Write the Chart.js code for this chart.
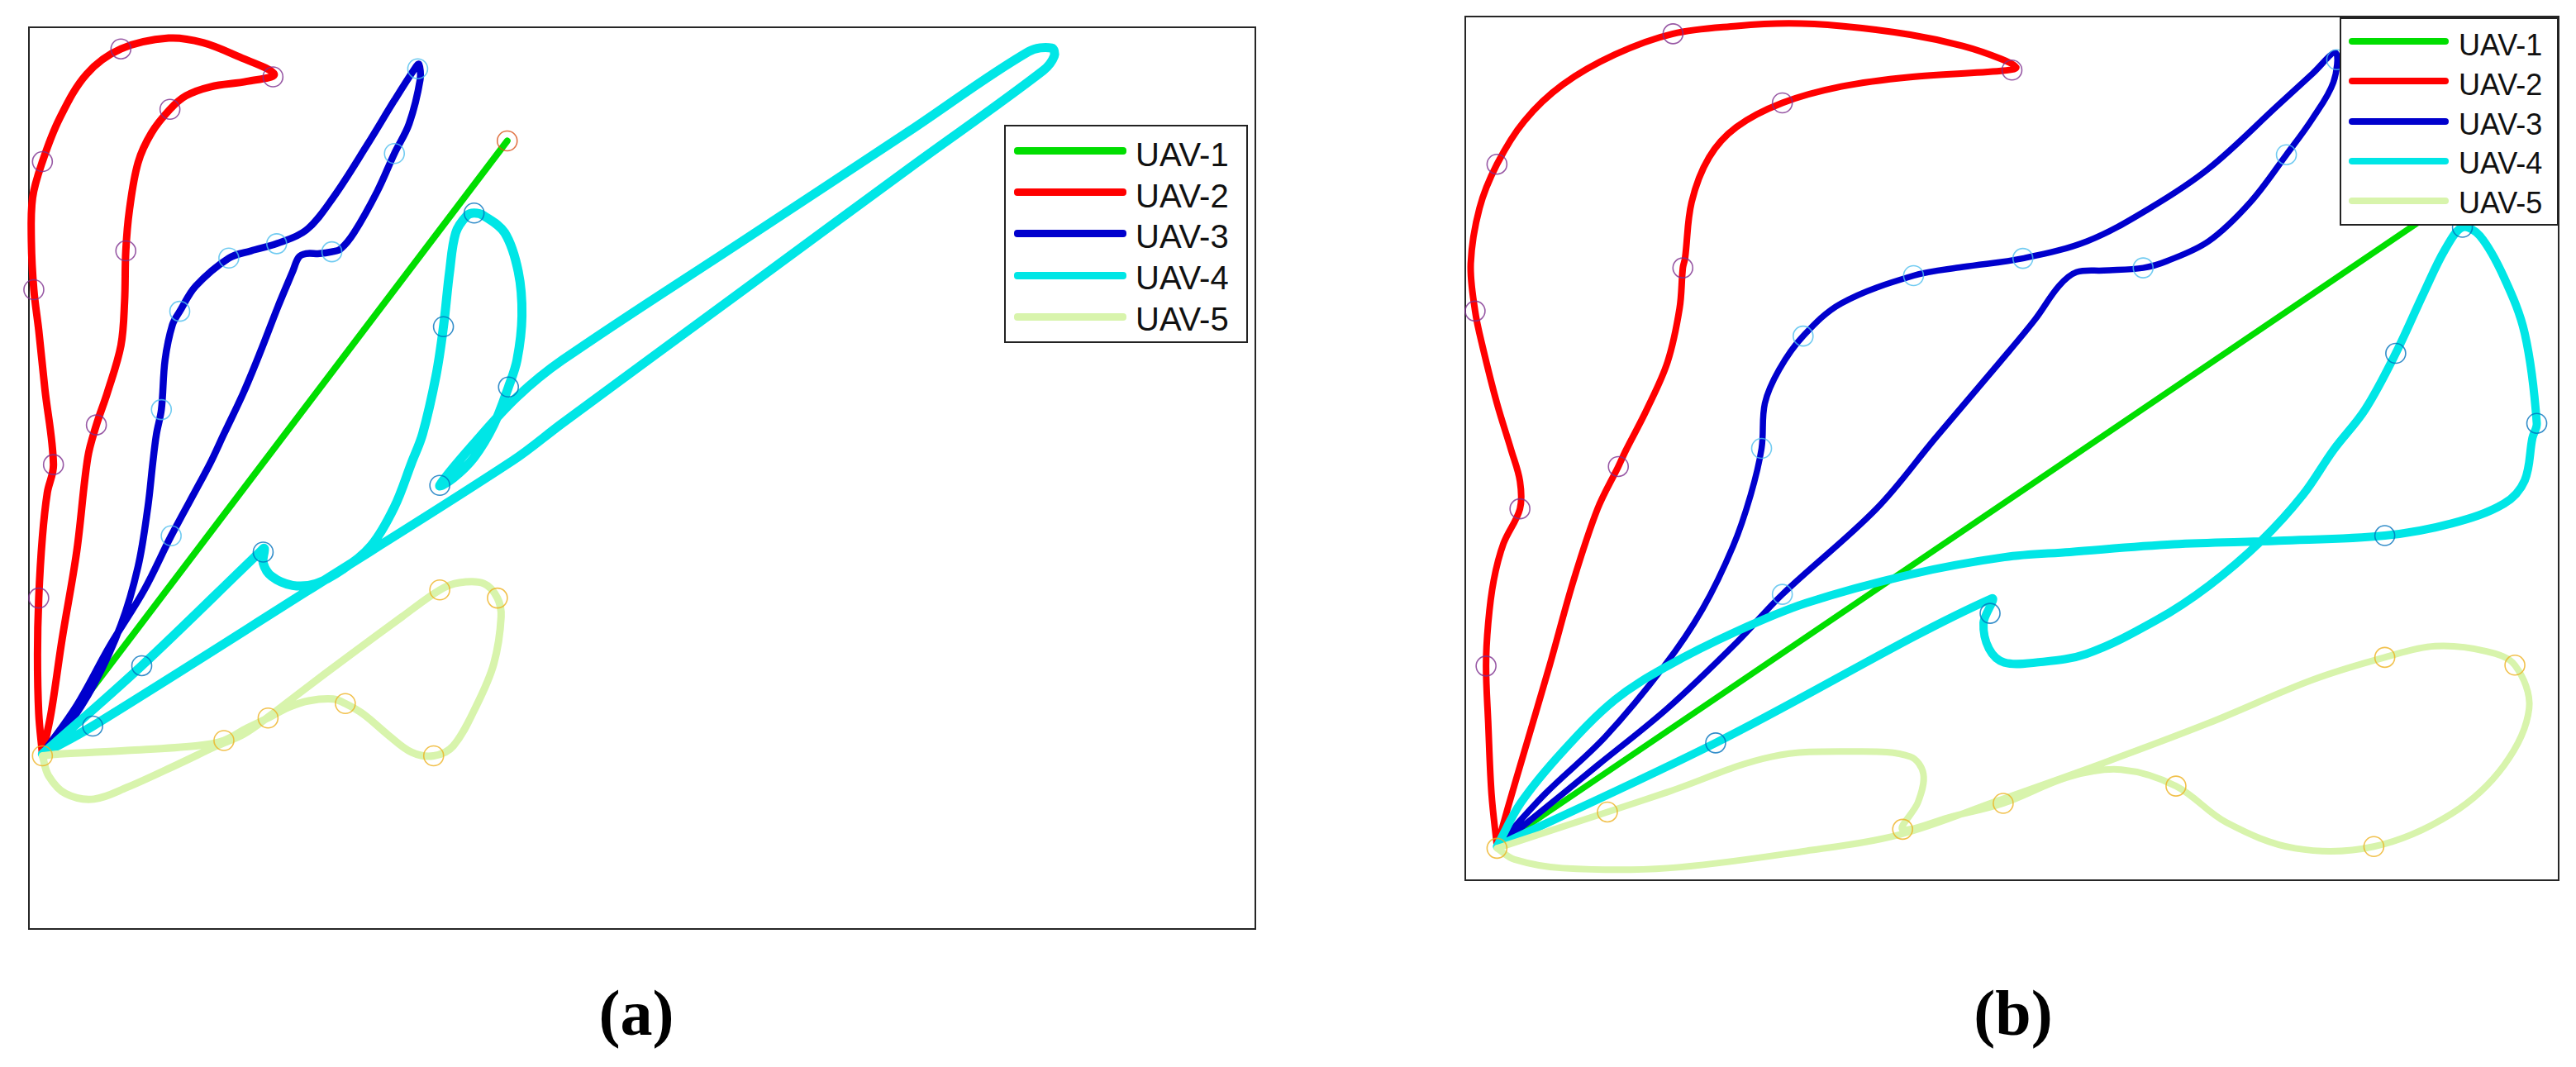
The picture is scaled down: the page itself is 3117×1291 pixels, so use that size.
<!DOCTYPE html>
<html><head><meta charset="utf-8">
<script src="https://cdn.jsdelivr.net/npm/chart.js@4.4.0/dist/chart.umd.min.js"></script>
<style>
html,body{margin:0;padding:0;background:#fff;}
body{width:3117px;height:1291px;position:relative;overflow:hidden;}
canvas{position:absolute;}
.legend{position:absolute;background:#fff;border:2px solid #222;box-sizing:border-box;font-family:'Liberation Sans',Arial,sans-serif;color:#111;z-index:5;}
.sw{position:absolute;border-radius:4px;}
.lt{position:absolute;white-space:nowrap;}
.cap{position:absolute;width:300px;text-align:center;font-family:'Liberation Serif','Times New Roman',serif;font-weight:bold;font-size:78px;line-height:78px;color:#000;}
</style></head>
<body>
<canvas id="ca" width="1524" height="1131" style="left:15px;top:13px"></canvas>
<canvas id="cb" width="1363" height="1085" style="left:1753px;top:0px"></canvas>
<div id="lega" class="legend" style="left:1215px;top:151px;width:295px;height:264px"></div>
<div id="legb" class="legend" style="left:2831px;top:21px;width:265px;height:252px"></div>
<div class="cap" style="left:620px;top:1187px">(a)</div>
<div class="cap" style="left:2286px;top:1187px">(b)</div>
<script>
const UAV_NAMES = ['UAV-1','UAV-2','UAV-3','UAV-4','UAV-5'];
const LINE_COLORS = ['#00DE00','#FF0000','#0000CD','#00E6E6','#D8F4AC'];
const MARKER_COLORS = ['#D95319','#7E2F8E','#4DBEEE','#0072BD','#EDB120'];

// ---- Panel (a): trajectories (normalised 0-100 units) ----
const A_UAV1 = [[1.1,19.4],[39.0,87.4]];
const A_UAV2 = [[1.1,19.4],[0.8,23.9],[0.7,30.4],[0.8,36.7],[1.1,43.5],[1.5,48.4],[2.0,51.5],[1.3,59.9],[0.8,66.4],[0.4,70.9],[0.2,76.2],[0.3,81.1],[1.1,85.1],[2.5,89.9],[4.7,94.8],[7.5,97.6],[11.4,98.8],[14.2,98.3],[17.0,96.8],[20.0,94.8],[17.8,94.0],[14.8,93.4],[12.8,92.4],[11.5,90.9],[10.0,88.3],[8.9,85.0],[8.2,79.8],[7.9,75.2],[7.8,69.6],[7.5,64.7],[6.4,59.5],[5.5,55.9],[4.8,52.3],[3.9,41.9],[2.7,32.1],[1.8,23.9],[1.1,19.4]];
const A_UAV3 = [[1.1,19.4],[3.0,22.2],[5.3,27.1],[7.5,33.7],[8.9,40.2],[9.7,46.8],[10.1,51.7],[10.4,54.9],[10.8,57.6],[11.1,63.1],[11.7,67.0],[12.3,68.5],[13.6,71.3],[16.3,74.4],[18.1,75.2],[20.2,76.0],[22.6,77.5],[24.8,81.1],[27.6,87.0],[29.8,91.9],[31.5,95.5],[31.8,95.9],[31.9,94.2],[31.0,89.3],[29.8,86.0],[28.4,81.8],[26.5,77.2],[25.4,75.4],[24.7,75.1],[23.7,74.9],[22.6,74.9],[22.0,74.5],[21.5,72.9],[20.3,69.0],[18.9,64.1],[17.5,59.5],[15.9,54.9],[14.8,51.7],[13.9,49.4],[11.6,43.6],[9.4,37.6],[6.6,31.4],[3.9,24.8],[1.1,19.4]];
const A_UAV4 = [[1.1,19.4],[9.2,29.2],[18.9,41.9],[19.2,42.2],[19.1,40.6],[19.8,39.1],[21.5,38.1],[23.4,38.3],[25.6,39.9],[27.9,42.5],[29.8,46.8],[31.2,51.7],[32.1,54.9],[33.2,61.4],[33.8,66.8],[34.3,72.9],[34.8,77.2],[35.7,79.1],[36.3,79.4],[37.1,79.1],[38.8,77.2],[39.9,72.9],[40.2,68.0],[39.8,63.1],[39.1,60.1],[37.9,55.9],[36.3,52.3],[34.6,50.0],[33.5,49.2],[36.4,54.0],[39.8,59.0],[43.5,63.1],[58.3,76.4],[71.8,88.5],[81.5,97.3],[83.4,97.7],[83.6,96.8],[82.7,95.2],[71.8,84.4],[58.3,70.9],[43.5,56.1],[39.4,51.9],[22.6,37.4],[5.2,22.5],[1.1,19.4]];
const A_UAV5 = [[1.1,19.2],[2.5,19.4],[8.0,19.8],[13.6,20.3],[15.9,20.9],[17.8,22.3],[19.5,23.4],[21.2,24.6],[22.8,25.3],[24.8,25.5],[25.8,25.0],[27.3,23.8],[29.3,21.5],[31.2,19.6],[33.0,19.2],[34.6,20.3],[36.5,24.8],[37.9,29.4],[38.5,34.6],[38.2,36.7],[37.1,38.3],[35.1,38.4],[33.5,37.6],[30.4,34.6],[26.2,30.4],[22.0,26.1],[19.7,23.7],[17.5,21.6],[15.3,20.3],[12.2,18.3],[8.0,15.7],[5.3,14.4],[3.0,15.0],[1.6,17.0],[1.1,19.2]];
// waypoints (a)
const A_UAV1_WP = [[39.0,87.4]];
const A_UAV2_WP = [[0.8,36.7],[2.0,51.5],[0.4,70.9],[1.1,85.1],[7.5,97.6],[19.9,94.5],[11.5,90.9],[7.9,75.2],[5.5,55.9]];
const A_UAV3_WP = [[10.8,57.6],[12.3,68.5],[16.3,74.4],[20.2,76.0],[31.7,95.4],[29.8,86.0],[24.7,75.1],[11.6,43.6]];
const A_UAV4_WP = [[5.2,22.5],[9.2,29.2],[19.1,41.8],[33.8,66.8],[36.3,79.4],[39.1,60.1],[33.5,49.2]];
const A_UAV5_WP = [[1.1,19.2],[15.9,20.9],[19.5,23.4],[25.8,25.0],[33.0,19.2],[38.2,36.7],[33.5,37.6]];

// ---- Panel (b) ----
const B_UAV1 = [[2.9,3.9],[89.3,78.0]];
const B_UAV2 = [[2.9,3.9],[2.4,10.0],[2.1,18.2],[1.9,24.8],[2.1,29.8],[2.6,34.7],[3.5,39.0],[5.0,43.0],[5.0,46.2],[4.2,49.8],[2.9,55.2],[1.6,61.7],[0.9,65.9],[0.5,71.4],[1.3,77.8],[2.9,82.9],[5.4,87.9],[8.9,92.1],[13.7,95.6],[19.0,98.0],[24.8,98.9],[29.6,99.2],[34.4,98.9],[40.7,97.9],[45.5,96.6],[49.0,95.1],[50.4,94.1],[49.0,93.7],[40.7,93.0],[34.4,91.9],[29.0,90.0],[24.8,87.2],[22.3,83.7],[20.7,78.5],[20.1,72.0],[19.9,70.9],[19.6,66.2],[18.5,60.0],[16.6,54.5],[14.7,49.8],[14.0,47.9],[12.1,43.0],[9.9,34.7],[7.7,24.8],[5.4,14.9],[3.9,8.4],[2.9,3.9]];
const B_UAV3 = [[2.9,3.9],[7.3,10.0],[12.8,16.6],[18.2,24.8],[21.7,31.4],[24.5,38.7],[26.1,44.6],[27.1,50.0],[27.4,55.2],[28.7,59.1],[30.9,63.0],[34.4,66.8],[41.0,70.0],[45.5,71.0],[51.0,72.0],[56.9,74.0],[62.6,77.8],[68.0,82.4],[74.4,89.8],[77.5,93.4],[79.6,95.8],[79.4,92.4],[77.5,88.2],[75.1,84.0],[71.8,78.5],[68.0,74.0],[64.2,71.7],[62.0,70.9],[58.4,70.6],[55.9,70.4],[54.3,68.8],[52.1,64.9],[48.9,60.0],[43.0,51.2],[37.6,43.0],[29.0,33.1],[24.8,27.5],[18.5,19.9],[12.1,13.3],[5.7,6.7],[2.9,3.9]];
const B_UAV4 = [[2.9,3.9],[5.1,9.0],[8.9,14.9],[13.7,20.9],[18.5,24.8],[24.8,28.8],[31.2,32.1],[40.7,35.4],[49.3,37.4],[55.3,38.0],[64.8,38.9],[74.4,39.3],[84.1,39.9],[90.2,41.3],[95.0,43.6],[96.9,46.3],[97.6,51.2],[98.0,52.9],[96.9,63.3],[95.0,69.8],[92.8,74.6],[91.2,75.6],[89.6,73.0],[87.7,68.1],[85.1,61.0],[82.3,54.5],[79.4,49.8],[76.6,44.6],[72.8,39.3],[68.0,34.1],[63.2,30.1],[56.8,26.2],[52.1,25.2],[49.3,25.2],[47.9,26.8],[47.4,29.8],[48.1,32.6],[22.9,15.9],[2.9,3.9]];
const B_UAV5 = [[2.9,3.7],[13.0,7.9],[18.5,10.2],[28.0,14.3],[36.0,14.9],[40.7,14.3],[41.9,12.3],[41.4,9.0],[40.0,5.9],[44.6,7.4],[49.2,8.9],[55.3,12.0],[60.0,12.8],[65.0,10.9],[69.6,6.7],[75.9,3.7],[83.1,3.9],[90.2,7.7],[95.0,13.3],[97.3,19.9],[96.0,24.9],[93.4,26.5],[88.7,27.1],[84.1,25.8],[77.5,23.2],[68.0,18.2],[58.4,13.6],[48.9,9.3],[39.8,5.3],[31.2,3.4],[18.5,1.4],[8.9,1.4],[4.5,2.4],[2.9,3.7]];
// waypoints (b)
const B_UAV1_WP = [[89.3,78.0]];
const B_UAV2_WP = [[1.9,24.8],[5.0,43.0],[0.9,65.9],[2.9,82.9],[19.0,98.0],[50.0,93.8],[29.0,90.0],[19.9,70.9],[14.0,47.9]];
const B_UAV3_WP = [[27.1,50.0],[30.9,63.0],[41.0,70.0],[51.0,72.0],[79.7,95.0],[75.1,84.0],[62.0,70.9],[29.0,33.1]];
const B_UAV4_WP = [[22.9,15.9],[48.0,30.9],[84.1,39.9],[98.0,52.9],[91.2,75.6],[85.1,61.0]];
const B_UAV5_WP = [[2.9,3.7],[13.0,7.9],[40.0,5.9],[49.2,8.9],[65.0,10.9],[83.1,3.9],[96.0,24.9],[84.1,25.8]];

const framePlugin = {
  id:'frame',
  beforeDatasetsDraw(chart){
    const {ctx, chartArea:a} = chart;
    ctx.save(); ctx.strokeStyle='#262626'; ctx.lineWidth=2;
    ctx.strokeRect(a.left, a.top, a.right-a.left, a.bottom-a.top);
    ctx.restore();
  }
};
function pts(a){ return a.map(p=>({x:p[0], y:p[1]})); }
function build(id, paths, wps, widths){
  const ds = [];
  paths.forEach((p,i)=>ds.push({
    label:UAV_NAMES[i], data:pts(p), borderColor:LINE_COLORS[i], backgroundColor:LINE_COLORS[i],
    borderWidth:widths[i], showLine:true, pointRadius:0, pointHoverRadius:0,
    tension:i===0?0:0.35, fill:false, order:20-i, borderCapStyle:'round', borderJoinStyle:'round', clip:false
  }));
  wps.forEach((m,i)=>ds.push({
    label:UAV_NAMES[i]+' waypoints', data:pts(m), showLine:false, pointRadius:12, pointHoverRadius:12,
    pointBorderWidth:1.6, pointBorderColor:MARKER_COLORS[i]+'CC', pointBackgroundColor:'rgba(0,0,0,0)',
    borderColor:MARKER_COLORS[i], order:10-i, clip:false
  }));
  new Chart(document.getElementById(id), {
    type:'line', data:{datasets:ds},
    options:{
      responsive:false, animation:false, events:[],
      layout:{padding:20},
      plugins:{legend:{display:false}, tooltip:{enabled:false}},
      scales:{
        x:{type:'linear', min:0, max:100, display:false},
        y:{type:'linear', min:0, max:100, display:false}
      }
    },
    plugins:[framePlugin]
  });
}
build('ca', [A_UAV1,A_UAV2,A_UAV3,A_UAV4,A_UAV5], [A_UAV1_WP,A_UAV2_WP,A_UAV3_WP,A_UAV4_WP,A_UAV5_WP], [8,9,8.5,11,9]);
build('cb', [B_UAV1,B_UAV2,B_UAV3,B_UAV4,B_UAV5], [B_UAV1_WP,B_UAV2_WP,B_UAV3_WP,B_UAV4_WP,B_UAV5_WP], [7.5,8,7.5,10,8]);

function legend(id, s){
  const el = document.getElementById(id);
  UAV_NAMES.forEach((n,i)=>{
    const ly = s.line0 + i*s.lineStep, ty = s.text0 + i*s.textStep;
    const sw = document.createElement('div'); sw.className='sw';
    sw.style.left = s.lineLeft+'px'; sw.style.width = s.lineW+'px';
    sw.style.height = s.lineH+'px'; sw.style.top = (ly - s.lineH/2)+'px';
    sw.style.background = LINE_COLORS[i];
    el.appendChild(sw);
    const t = document.createElement('div'); t.className='lt'; t.textContent = n;
    t.style.left = s.textLeft+'px'; t.style.fontSize = s.fs+'px'; t.style.lineHeight = s.fs+'px';
    t.style.top = (ty - s.fs/2)+'px';
    el.appendChild(t);
  });
}
legend('lega', {line0:29.3, lineStep:50.25, text0:33.7, textStep:49.8, lineLeft:9.6, lineW:136, lineH:9, textLeft:157, fs:40});
legend('legb', {line0:27, lineStep:48.3, text0:32, textStep:47.8, lineLeft:8.7, lineW:121, lineH:8, textLeft:142, fs:36});
</script>
</body></html>
